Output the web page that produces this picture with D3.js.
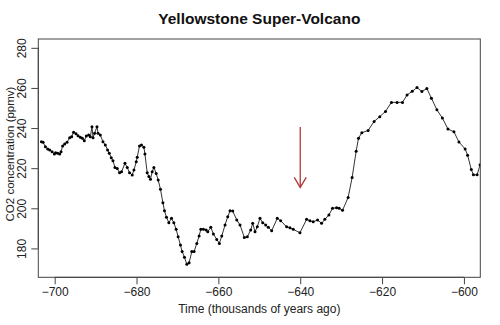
<!DOCTYPE html>
<html><head><meta charset="utf-8">
<script src="https://cdn.jsdelivr.net/npm/d3@7/dist/d3.min.js"></script>
<style>body{margin:0;background:#fff}svg{display:block;font-family:"Liberation Sans",Arial,sans-serif}</style>
</head><body><svg id="c" width="500" height="325"></svg>
<script>
const years = [-703.24,-702.83,-702.27,-701.71,-701.22,-700.63,-700.07,-699.76,-699.27,-698.78,-698.44,-698.05,-697.56,-696.98,-696.34,-695.85,-695.37,-694.78,-694.29,-693.73,-693.24,-692.76,-692.27,-691.71,-691.29,-690.88,-690.63,-690.24,-689.66,-689.41,-688.85,-688.20,-687.63,-687.07,-686.66,-686.17,-685.76,-685.27,-684.71,-684.15,-683.66,-682.83,-682.27,-681.71,-681.05,-680.63,-680.07,-679.83,-679.27,-678.78,-678.20,-677.95,-677.39,-676.98,-676.59,-676.17,-675.76,-675.20,-674.71,-674.15,-673.56,-673.17,-672.68,-672.10,-671.46,-670.88,-670.32,-669.83,-669.27,-668.85,-668.29,-667.71,-667.15,-666.49,-665.93,-665.27,-664.71,-664.29,-663.66,-663.00,-662.59,-661.85,-661.22,-660.39,-659.76,-659.17,-658.37,-657.71,-657.15,-656.49,-655.51,-654.71,-653.66,-652.93,-652.10,-651.61,-651.05,-650.49,-649.83,-649.17,-648.44,-647.80,-646.98,-645.61,-644.78,-643.32,-642.51,-641.71,-640.07,-638.44,-637.63,-636.83,-635.76,-634.78,-633.98,-633.00,-632.10,-631.12,-630.49,-629.66,-628.29,-627.32,-626.34,-625.76,-624.95,-623.41,-621.95,-620.56,-619.17,-617.71,-616.34,-615.02,-613.90,-612.63,-611.46,-610.27,-609.05,-607.95,-606.61,-605.27,-603.90,-602.44,-601.22,-599.71,-599.10,-598.20,-597.68,-596.78,-596.05];
const co2 = [233.2,232.9,230.7,229.6,229.1,228.2,227.1,227.7,227.4,227.1,228.2,231.1,232.1,232.9,235.2,235.7,237.9,237.2,236.2,235.4,234.9,233.7,236.0,236.5,235.7,240.7,235.2,237.4,240.7,237.4,236.5,233.2,231.6,229.1,227.4,225.2,223.7,220.4,219.9,217.7,218.2,222.4,220.4,217.7,216.6,219.1,223.2,225.4,231.1,231.6,230.4,227.1,217.7,215.8,214.5,218.2,220.4,217.4,214.1,209.5,202.8,198.8,195.5,192.8,195.0,192.8,189.5,185.8,181.7,178.4,175.6,172.1,172.9,178.4,178.4,182.5,186.2,189.5,189.5,189.2,188.3,190.5,187.2,184.5,182.5,186.2,191.7,195.8,198.8,198.6,194.2,191.7,185.5,185.8,189.2,192.5,188.3,190.8,195.0,192.8,191.7,190.5,188.8,195.0,193.8,190.8,190.3,189.5,187.8,194.5,193.8,193.3,194.2,192.5,194.5,196.7,200.0,200.3,200.0,199.0,205.4,215.3,228.4,234.9,237.7,238.8,243.3,245.7,248.3,252.8,252.8,252.8,256.5,258.3,260.2,258.2,259.7,254.9,249.1,245.0,239.5,238.1,233.1,229.6,226.5,219.3,216.7,216.7,221.7];
const xTicks = [-700,-680,-660,-640,-620,-600];
const yTicks = [180,200,220,240,260,280];
const xLimits = [-700,-600];
const yLimits = [170,280];
const arrowFrom = [-640,240.5];
const arrowTo = [-640,210.4];
const titleText = "Yellowstone Super-Volcano";
const xLabel = "Time (thousands of years ago)";
const yLabel = "CO2 concentration (ppmv)";

const svg = d3.select("#c");
const L=38.3, R=480.3, T=39, B=277.3;
const ext = (a)=>{const d=(a[1]-a[0])*0.04;return [a[0]-d,a[1]+d];};
const x = d3.scaleLinear().domain(ext(xLimits)).range([L,R]);
const y = d3.scaleLinear().domain(ext(yLimits)).range([B,T]);
const axCol="#444";

svg.append("defs").append("clipPath").attr("id","clip").append("rect")
  .attr("x",L).attr("y",T).attr("width",R-L).attr("height",B-T);

const data = years.map((t,i)=>({t, v:co2[i]}));
const g = svg.append("g").attr("clip-path","url(#clip)");
g.append("path").datum(data).attr("fill","none").attr("stroke","#333").attr("stroke-width",1)
  .attr("d", d3.line().x(d=>x(d.t)).y(d=>y(d.v)));
g.selectAll("circle").data(data).join("circle")
  .attr("cx",d=>x(d.t)).attr("cy",d=>y(d.v)).attr("r",1.5).attr("fill","#000");

// box
svg.append("rect").attr("x",L).attr("y",T).attr("width",R-L).attr("height",B-T)
  .attr("fill","none").attr("stroke",axCol).attr("stroke-width",1);

// axes
const xa = svg.append("g").attr("transform",`translate(0,${B})`)
  .call(d3.axisBottom(x).tickValues(xTicks).tickSize(7).tickPadding(3).tickFormat(d3.format("d")));
xa.select(".domain").attr("stroke",axCol).attr("d",`M${x(xTicks[0])},0H${x(xTicks[xTicks.length-1])}`);
xa.selectAll(".tick line").attr("stroke",axCol);
xa.selectAll("text").attr("font-size",12).attr("fill","#222");

const ya = svg.append("g").attr("transform",`translate(${L},0)`)
  .call(d3.axisLeft(y).tickValues(yTicks).tickSize(7).tickFormat(d3.format("d")));
ya.select(".domain").attr("stroke",axCol).attr("d",`M0,${y(yTicks[0])}V${y(yTicks[yTicks.length-1])}`);
ya.selectAll(".tick line").attr("stroke",axCol);
ya.selectAll("text").attr("font-size",12).attr("fill","#222")
  .attr("text-anchor","middle").attr("x",0).attr("dy",0)
  .attr("transform","translate(-12,0) rotate(-90)");

// arrow
const ax1=x(arrowFrom[0]), ay1=y(arrowFrom[1]), ax2=x(arrowTo[0]), ay2=y(arrowTo[1]);
const red="#b0393b";
svg.append("line").attr("x1",ax1).attr("y1",ay1).attr("x2",ax2).attr("y2",ay2)
  .attr("stroke",red).attr("stroke-width",1.3);
svg.append("path").attr("d",`M${ax2-6},${ay2-10}L${ax2},${ay2}L${ax2+6},${ay2-10}`)
  .attr("fill","none").attr("stroke",red).attr("stroke-width",1.3);

// labels
svg.append("text").attr("x",(L+R)/2).attr("y",24).attr("text-anchor","middle")
  .attr("font-size",15.5).attr("font-weight","bold").attr("fill","#111").text(titleText);
svg.append("text").attr("x",(L+R)/2).attr("y",313).attr("text-anchor","middle")
  .attr("font-size",12).attr("fill","#222").text(xLabel);
svg.append("text").attr("transform",`translate(14,154) rotate(-90)`).attr("text-anchor","middle")
  .attr("font-size",11.5).attr("fill","#222").text(yLabel);
</script></body></html>
